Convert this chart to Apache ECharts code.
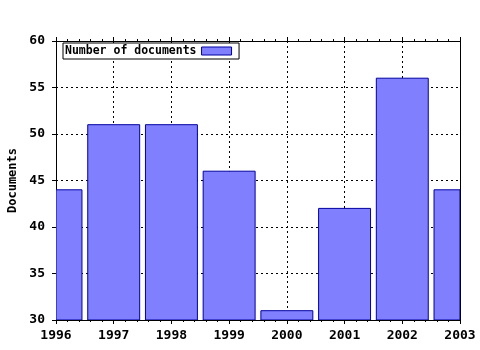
<!DOCTYPE html>
<html>
<head>
<meta charset="utf-8">
<script src="https://cdn.jsdelivr.net/npm/echarts@6/dist/echarts.min.js"></script>
<style>html,body{margin:0;padding:0;background:#fff}#c{width:480px;height:350px}</style>
</head>
<body>
<div id="c"></div>
<script>
var years = [1996, 1997, 1998, 1999, 2000, 2001, 2002, 2003];
var documents = [44, 51, 51, 46, 31, 42, 56, 44];
var seriesName = 'Number of documents';
var yTitle = 'Documents';

var chart = echarts.init(document.getElementById('c'), null, {renderer: 'canvas'});
var font = '"DejaVu Sans Mono", monospace';
var data = years.map(function (y, i) { return [y, documents[i]]; });
var barFill = '#8080ff', barBorder = '#0000a0';

function renderBar(params, api) {
  var x = api.value(0), v = api.value(1);
  var top = api.coord([x, v]);
  var base = api.coord([x, 30]);
  var w = api.size([0.9, 0])[0];
  var rect = {x: top[0] - w / 2, y: top[1], width: w, height: base[1] - top[1]};
  var cs = params.coordSys;
  var clipped = echarts.graphic.clipRectByRect(rect, {x: cs.x, y: cs.y, width: cs.width, height: cs.height});
  if (!clipped) return null;
  return {
    type: 'rect',
    shape: clipped,
    style: {fill: barFill, stroke: barBorder, lineWidth: 1}
  };
}

chart.setOption({
  animation: false,
  backgroundColor: '#ffffff',
  grid: {left: 56, right: 20, top: 41, bottom: 30, containLabel: false, outerBoundsMode: 'none'},
  legend: {
    show: true,
    left: 63, top: 43,
    align: 'right',
    orient: 'horizontal',
    padding: [2, 7, 2, 2],
    itemGap: 7,
    itemWidth: 30, itemHeight: 8,
    borderColor: '#000', borderWidth: 1, borderRadius: 0,
    backgroundColor: '#fff',
    textStyle: {fontFamily: font, fontWeight: 'bold', fontSize: 11.5, color: '#000'},
    data: [{name: seriesName, icon: 'rect', itemStyle: {color: barFill, borderColor: barBorder, borderWidth: 1}}]
  },
  xAxis: [{
    type: 'value', min: 1996, max: 2003, interval: 1, position: 'bottom',
    axisLine: {show: true, onZero: false, lineStyle: {color: '#000', width: 1}},
    axisTick: {show: true, length: 4, inside: false, lineStyle: {color: '#000'}},
    minorTick: {show: true, splitNumber: 5, length: 2, lineStyle: {color: '#000'}},
    splitLine: {show: true, lineStyle: {color: '#000', type: [2, 3], width: 1}},
    axisLabel: {fontFamily: font, fontWeight: 'bold', fontSize: 13, color: '#000', margin: 9,
      formatter: function (v) { return String(v); }}
  }, {
    type: 'value', min: 1996, max: 2003, interval: 1, position: 'top',
    axisLine: {show: true, onZero: false, lineStyle: {color: '#000', width: 1}},
    axisTick: {show: true, length: 4, inside: false, lineStyle: {color: '#000'}},
    minorTick: {show: true, splitNumber: 5, length: 2, lineStyle: {color: '#000'}},
    splitLine: {show: false},
    axisLabel: {show: false}
  }],
  yAxis: [{
    type: 'value', min: 30, max: 60, interval: 5, position: 'left',
    name: yTitle, nameLocation: 'middle', nameGap: 35, nameRotate: 90,
    nameTextStyle: {fontFamily: font, fontWeight: 'bold', fontSize: 12, color: '#000'},
    axisLine: {show: true, onZero: false, lineStyle: {color: '#000', width: 1}},
    axisTick: {show: true, length: 4, inside: false, lineStyle: {color: '#000'}},
    splitLine: {show: true, lineStyle: {color: '#000', type: [2, 3], width: 1}},
    axisLabel: {fontFamily: font, fontWeight: 'bold', fontSize: 13, color: '#000', margin: 11}
  }, {
    type: 'value', min: 30, max: 60, interval: 5, position: 'right',
    axisLine: {show: true, onZero: false, lineStyle: {color: '#000', width: 1}},
    axisTick: {show: false}, splitLine: {show: false}, axisLabel: {show: false}
  }],
  series: [{
    name: seriesName,
    type: 'custom',
    xAxisIndex: 0, yAxisIndex: 0,
    data: data,
    clip: true,
    renderItem: renderBar,
    encode: {x: 0, y: 1},
    itemStyle: {color: barFill, borderColor: barBorder, borderWidth: 1}
  }]
});
</script>
</body>
</html>
